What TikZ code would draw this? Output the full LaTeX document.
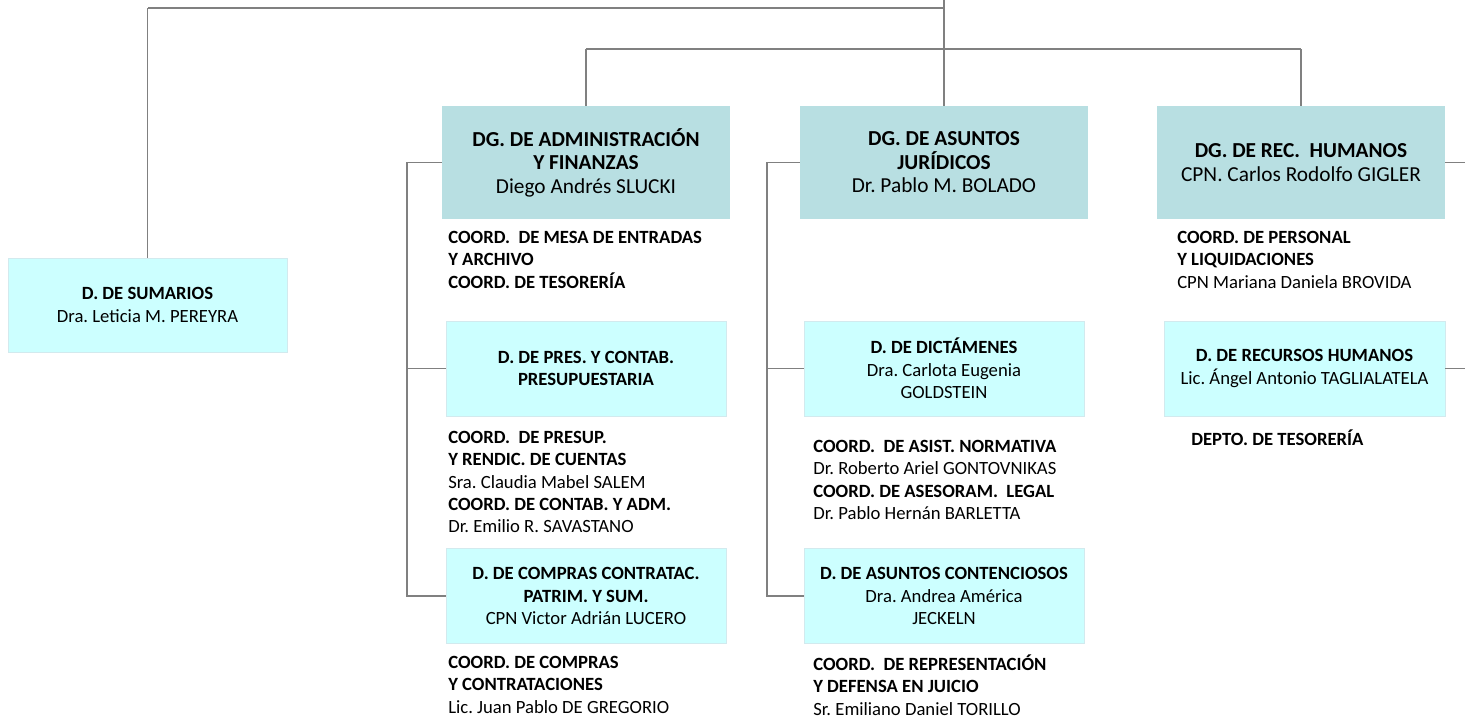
\documentclass[tikz,border=0pt]{standalone}
\usepackage{fontspec}
\setmainfont{Carlito}
\frenchspacing
\begin{document}
\begin{tikzpicture}[x=0.75pt, y=-0.75pt,
  every node/.style={font=\fontsize{14}{16.8}\selectfont, inner sep=0pt},
  dgbox/.style={fill={rgb,255:red,184;green,223;blue,226}, align=center,
    font=\fontsize{16}{17.6}\selectfont,
    minimum width=216pt, minimum height=84.75pt},
  dbox/.style={fill={rgb,255:red,204;green,255;blue,255},
    draw={rgb,255:red,210;green,234;blue,238}, line width=0.6pt, align=center,
    minimum width=210pt, minimum height=71.25pt},
  list/.style={align=left, anchor=north west},
  link/.style={draw={rgb,255:red,128;green,128;blue,128}, line width=1.1pt},
  bus/.style={link, line width=1.6pt}]
% Frame of the page
\useasboundingbox (0,0) rectangle (1465,719);
% Boxes of the chart
\node[dbox, minimum width=209.25pt, minimum height=70.5pt] (sum) at (147.5,305)
  {\textbf{D. DE SUMARIOS}\\Dra. Leticia M. PEREYRA};
\node[dgbox] (dgadm) at (586,162.5)
  {\textbf{DG. DE ADMINISTRACIÓN}\\\textbf{Y FINANZAS}\\Diego Andrés SLUCKI};
\node[dgbox] (dgjur) at (944,162.5)
  {\textbf{DG. DE ASUNTOS}\\\textbf{JURÍDICOS}\\Dr. Pablo M. BOLADO};
\node[dgbox] (dgrh) at (1301,162.5)
  {\textbf{DG. DE REC.\ \ HUMANOS}\\CPN. Carlos Rodolfo GIGLER};
\node[dbox] (dpres) at (586,368.5)
  {\textbf{D. DE PRES. Y CONTAB.}\\\textbf{PRESUPUESTARIA}};
\node[dbox] (dcomp) at (586,596)
  {\textbf{D. DE COMPRAS CONTRATAC.}\\\textbf{PATRIM. Y SUM.}\\CPN Victor Adrián LUCERO};
\node[dbox] (ddict) at (944,368.5)
  {\textbf{D. DE DICTÁMENES}\\Dra. Carlota Eugenia\\GOLDSTEIN};
\node[dbox] (dcont) at (944,596)
  {\textbf{D. DE ASUNTOS CONTENCIOSOS}\\Dra. Andrea América\\JECKELN};
\node[dbox, minimum width=210.75pt] (drh) at (1304.5,368.5)
  {\textbf{D. DE RECURSOS HUMANOS}\\Lic. Ángel Antonio TAGLIALATELA};
% Lists under the boxes
\node[list] (admA) at (448,227.3)
  {\strut\textbf{COORD.\ \ DE MESA DE ENTRADAS}\\\textbf{Y ARCHIVO}\\\textbf{COORD. DE TESORERÍA}};
\node[list] (admB) at (448,427.3)
  {\strut\textbf{COORD.\ \ DE PRESUP.}\\\textbf{Y RENDIC. DE CUENTAS}\\Sra. Claudia Mabel SALEM\\\textbf{COORD. DE CONTAB. Y ADM.}\\Dr. Emilio R. SAVASTANO};
\node[list] (admC) at (448,652.3)
  {\strut\textbf{COORD. DE COMPRAS}\\\textbf{Y CONTRATACIONES}\\Lic. Juan Pablo DE GREGORIO};
\node[list] (jurA) at (813,436.3)
  {\strut\textbf{COORD.\ \ DE ASIST. NORMATIVA}\\Dr. Roberto Ariel GONTOVNIKAS\\\textbf{COORD. DE ASESORAM.\ \ LEGAL}\\Dr. Pablo Hernán BARLETTA};
\node[list] (jurB) at (813,654.3)
  {\strut\textbf{COORD.\ \ DE REPRESENTACIÓN}\\\textbf{Y DEFENSA EN JUICIO}\\Sr. Emiliano Daniel TORILLO};
\node[list] (rhA) at (1177,227.3)
  {\strut\textbf{COORD. DE PERSONAL}\\\textbf{Y LIQUIDACIONES}\\CPN Mariana Daniela BROVIDA};
\node[list] (rhB) at (1191,429.3)
  {\strut\textbf{DEPTO. DE TESORERÍA}};
% Connectors from the top
\coordinate (topin) at (944,0);
\coordinate (busA) at (944,8);
\coordinate (busB) at (944,49);
\draw[link] (topin) -- (dgjur.north);
\draw[bus] (busA) -- (busA -| sum.north);
\draw[link] (busA -| sum.north) -- (sum.north);
\draw[bus] (busB -| dgadm.north) -- (busB -| dgrh.north);
\draw[link] (busB -| dgadm.north) -- (dgadm.north);
\draw[link] (busB -| dgrh.north) -- (dgrh.north);
% Side rails
\coordinate (admtop) at (407,162.5);
\draw[link] (dgadm.west) -- (admtop) |- (dcomp.west);
\draw[link] (dpres.west) -- (dpres.west -| admtop);
\coordinate (jurtop) at (767,162.5);
\draw[link] (dgjur.west) -- (jurtop) |- (dcont.west);
\draw[link] (ddict.west) -- (ddict.west -| jurtop);
\coordinate (rhout) at (1466,162.5);
\draw[link] (dgrh.east) -- (rhout);
\draw[link] (drh.east) -- (drh.east -| rhout);
\end{tikzpicture}
\end{document}
